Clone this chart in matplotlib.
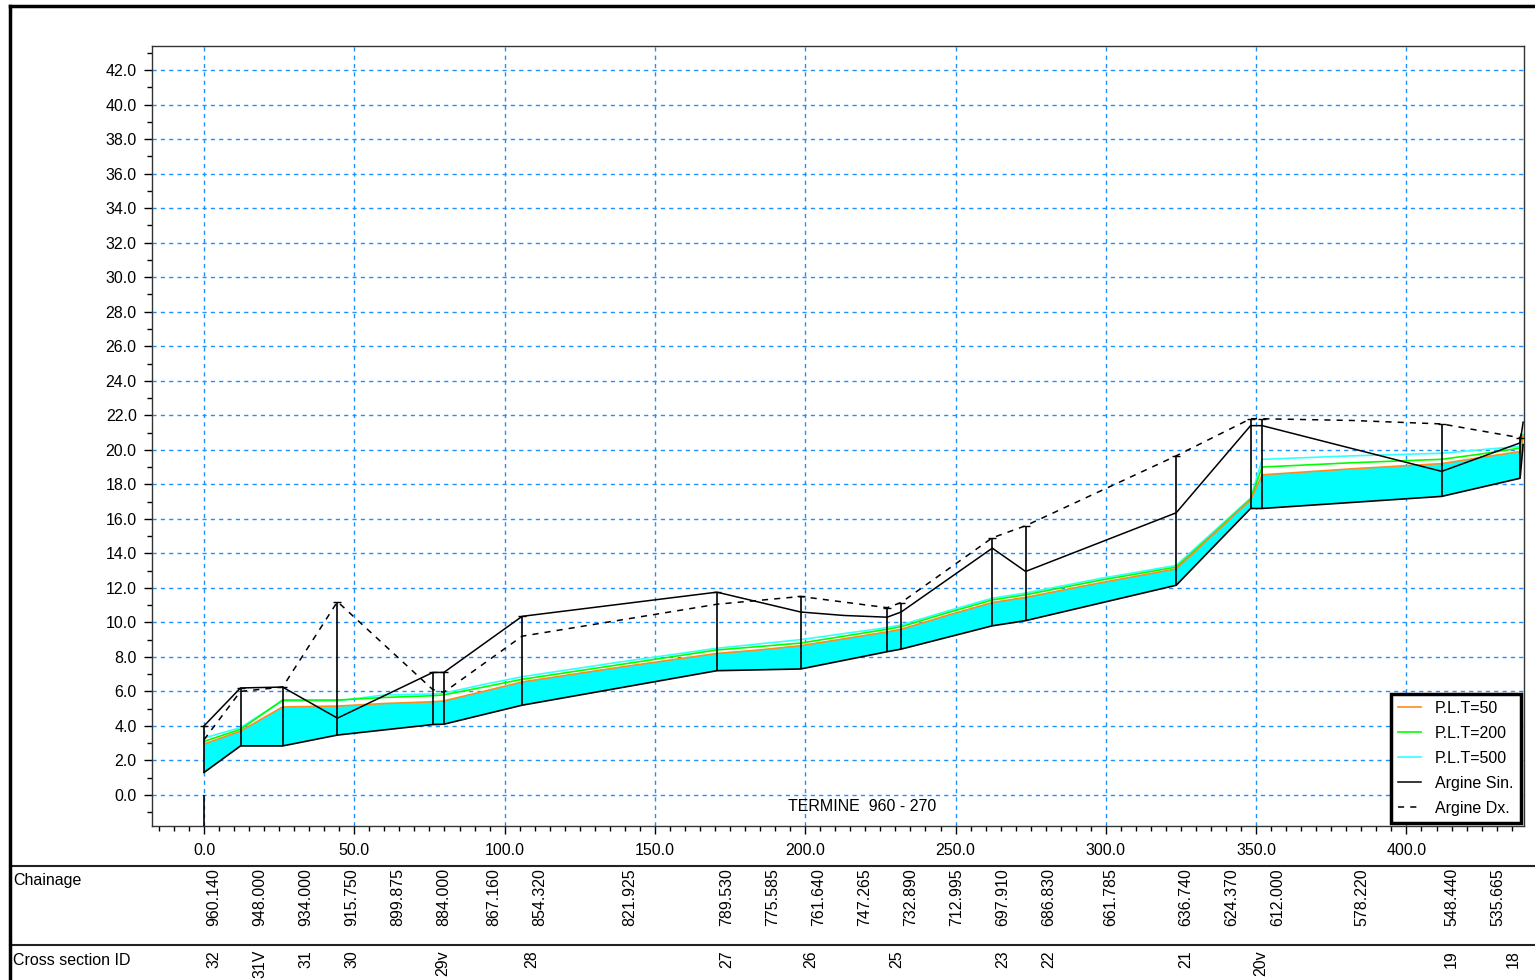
import numpy as np
import matplotlib.pyplot as plt
from matplotlib.lines import Line2D
from matplotlib.ticker import MultipleLocator, FormatStrFormatter

plt.rcParams['font.family'] = ['Liberation Sans', 'DejaVu Sans']
plt.rcParams['font.size'] = 11.5

# chainage labels (m) and their distance along the reach
chainage = [960.140, 948.000, 934.000, 915.750, 899.875, 884.000, 867.160, 854.320,
            821.925, 789.530, 775.585, 761.640, 747.265, 732.890, 712.995, 697.910,
            686.830, 661.785, 636.740, 624.370, 612.000, 578.220, 548.440, 535.665]
chain_x = [0, 12.14, 26.14, 44.39, 60.27, 76.14, 92.98, 105.82,
           138.22, 170.61, 184.56, 198.5, 212.88, 227.25, 247.15, 262.23,
           273.31, 298.36, 323.4, 335.77, 348.14, 381.92, 411.7, 424.48]

# cross section ids
sec_ids = ['32', '31V', '31', '30', '29v', '28', '27', '26', '25', '23', '22', '21', '20v', '19', '18']
sec_id_x = [0, 12.14, 26.14, 44.39, 76.14, 105.82, 170.61, 198.5, 227.25, 262.23, 273.31,
            323.4, 348.14, 411.7, 432.3]

# water surface profiles
wl_x = [0, 12.14, 26.14, 44.39, 60.27, 76.14, 79.8, 92.98, 105.82, 138.22, 170.61, 184.56,
        198.5, 212.88, 227.25, 231.9, 247.15, 262.23, 273.31, 298.36, 323.4, 335.77,
        348.14, 352.0, 381.92, 411.7, 424.48, 437.8, 438.8]
wl50 = [2.95, 3.7, 5.1, 5.15, 5.3, 5.4, 5.45, 6.0, 6.55, 7.4, 8.2, 8.4, 8.65, 9.05, 9.45,
        9.6, 10.4, 11.15, 11.45, 12.3, 13.1, 15.1, 17.1, 18.55, 18.9, 19.2, 19.55, 19.9, 20.8]
wl200 = [3.1, 3.8, 5.5, 5.5, 5.65, 5.75, 5.8, 6.25, 6.7, 7.55, 8.4, 8.6, 8.8, 9.2, 9.6,
         9.75, 10.55, 11.3, 11.6, 12.45, 13.2, 15.15, 17.15, 19.0, 19.25, 19.45, 19.75, 20.1, 20.85]
wl500 = [3.3, 3.9, 5.45, 5.45, 5.8, 5.85, 5.9, 6.4, 6.85, 7.7, 8.5, 8.75, 9.0, 9.35, 9.7,
         9.85, 10.65, 11.4, 11.7, 12.55, 13.3, 15.25, 17.2, 19.45, 19.65, 19.8, 20.0, 20.2, 20.9]

# bed
bed_x = [0, 12.14, 26.14, 44.39, 76.14, 79.8, 105.82, 170.61, 198.5, 227.25, 231.9, 262.23,
         273.31, 323.4, 348.14, 352.0, 411.7, 437.8, 438.8]
bed_z = [1.3, 2.84, 2.84, 3.47, 4.08, 4.1, 5.2, 7.2, 7.3, 8.3, 8.45, 9.8,
         10.1, 12.15, 16.6, 16.6, 17.3, 18.35, 20.3]

# banks
sin_x = [0, 12.14, 26.14, 44.39, 76.14, 79.8, 105.82, 170.61, 198.5, 212.88, 227.25, 231.9,
         262.23, 273.31, 323.4, 348.14, 352.0, 411.7, 437.8, 438.8]
sin_z = [4.0, 6.2, 6.25, 4.45, 7.1, 7.1, 10.35, 11.75, 10.6, 10.4, 10.3, 10.6,
         14.3, 12.95, 16.35, 21.4, 21.4, 18.75, 20.4, 21.6]
dx_x = [0, 12.14, 26.14, 44.39, 76.14, 79.8, 105.82, 170.61, 198.5, 227.25, 231.9, 262.23,
        273.31, 323.4, 348.14, 352.0, 381.92, 411.7, 437.8, 438.8]
dx_z = [3.2, 6.0, 6.25, 11.2, 6.1, 5.95, 9.2, 11.05, 11.5, 10.85, 11.15, 14.9,
        15.6, 19.65, 21.8, 21.8, 21.7, 21.5, 20.7, 21.3]

# stations where the section is drawn
sec_x = [0, 12.14, 26.14, 44.39, 76.14, 79.8, 105.82, 170.61, 198.5, 227.25, 231.9,
         262.23, 273.31, 323.4, 348.14, 352.0, 411.7, 437.8]

fig = plt.figure(figsize=(15.35, 9.8), dpi=100)
ax = fig.add_axes([152/1535, 1-826/980, (1524-152)/1535, (826-46)/980])

# wet area
poly_x = wl_x + bed_x[::-1]
poly_z = wl50 + bed_z[::-1]
ax.fill(poly_x, poly_z, color='#00FFFF', lw=0, zorder=2)

ax.plot(bed_x, bed_z, color='black', lw=1.2, zorder=4)
ax.plot(wl_x, wl500, color='#33FFFF', lw=1.2, zorder=3, label='P.L.T=500')
ax.plot(wl_x, wl200, color='#00FF00', lw=1.2, zorder=3, label='P.L.T=200')
ax.plot(wl_x, wl50, color='#FF8C1A', lw=1.2, zorder=3, label='P.L.T=50')
ax.plot(sin_x, sin_z, color='black', lw=1.1, zorder=4, label='Argine Sin.')
ax.plot(dx_x, dx_z, color='black', lw=1.1, ls=(0, (4, 4)), zorder=4, label='Argine Dx.')

sec_bot = np.interp(sec_x, bed_x, bed_z)
sec_top = np.maximum(np.interp(sec_x, sin_x, sin_z), np.interp(sec_x, dx_x, dx_z))
ax.vlines(sec_x, sec_bot, sec_top, color='black', lw=1.2, zorder=5)
ax.plot(sec_x, sec_top, ls='none', marker='_', ms=6, color='black', zorder=5)
ax.vlines([0], [-1.8], [0.0], color='black', lw=1.2, zorder=5)

ax.text(219, -0.65, 'TERMINE  960 - 270', ha='center', va='center')

ax.set_xlim(-17.3, 439.1)
ax.set_ylim(-1.8, 43.4)
ax.xaxis.set_major_locator(MultipleLocator(50))
ax.xaxis.set_minor_locator(MultipleLocator(5))
ax.yaxis.set_major_locator(MultipleLocator(2))
ax.yaxis.set_minor_locator(MultipleLocator(1))
ax.xaxis.set_major_formatter(FormatStrFormatter('%.1f'))
ax.yaxis.set_major_formatter(FormatStrFormatter('%.1f'))
ax.tick_params(which='major', direction='out', length=6, width=1, pad=5)
ax.tick_params(which='minor', direction='out', length=3.6, width=1)
ax.tick_params(axis='x', which='major', pad=6)
ax.grid(True, which='major', color='#1E90FF', ls=(0, (3, 3)), lw=1)
ax.set_axisbelow(True)
for s in ax.spines.values():
    s.set_color('#333333')
    s.set_linewidth(1)

h, l = ax.get_legend_handles_labels()
order = [2, 1, 0, 3, 4]
leg = ax.legend([h[i] for i in order], [l[i] for i in order], loc='lower right',
                bbox_to_anchor=(1.0, 0.0), borderaxespad=0.2, fancybox=False,
                edgecolor='black', framealpha=1, labelspacing=0.62, handlelength=1.4,
                handletextpad=0.9, borderpad=0.45)
leg.get_frame().set_linewidth(2.5)
leg.set_zorder(10)

# labels under the plot, pushed right so they do not overlap
def spread(xs, off=3.33, gap=15.3):
    out = []
    for x in xs:
        p = x + off
        if out and p < out[-1] + gap:
            p = out[-1] + gap
        out.append(p)
    return out

trans = ax.get_xaxis_transform()
for x, c in zip(spread(chain_x), chainage):
    ax.text(x, -(868-826)/780, '%.3f' % c, rotation=90, ha='center', va='top',
            transform=trans, clip_on=False)
for x, s in zip(spread(sec_id_x), sec_ids):
    ax.text(x, -(950-826)/780, s, rotation=90, ha='center', va='top',
            transform=trans, clip_on=False)

# table frame
fig.add_artist(Line2D([10/1535, 1], [1-866/980]*2, color='#222222', lw=1.5))
fig.add_artist(Line2D([10/1535, 1], [1-945/980]*2, color='#222222', lw=1.5))
fig.add_artist(Line2D([10/1535]*2, [0, 1-6/980], color='black', lw=2.5))
fig.add_artist(Line2D([10/1535, 1], [1-6/980]*2, color='black', lw=2.5))
fig.text(13/1535, 1-880/980, 'Chainage', ha='left', va='center')
fig.text(13/1535, 1-960/980, 'Cross section ID', ha='left', va='center')

fig.savefig('out.png', dpi=100)
